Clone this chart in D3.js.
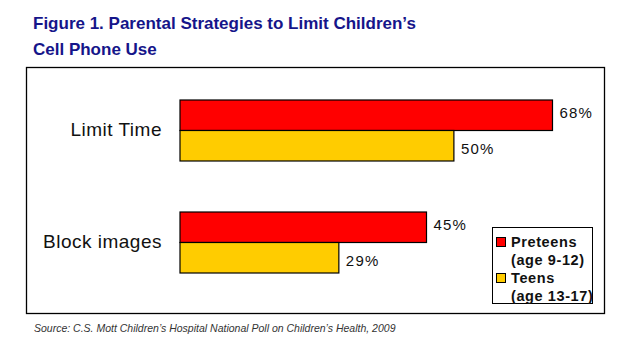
<!DOCTYPE html>
<html lang="en">
<head>
<meta charset="utf-8">
<title>Parental Strategies</title>
<script src="https://cdn.jsdelivr.net/npm/d3@7"></script>
<style>
  body { margin: 0; background: #fff; }
  text { font-family: Arial, "Liberation Sans", sans-serif; }
</style>
</head>
<body>
<script>
// data
var categories = ["Limit Time", "Block images"];
var groups = ["Preteens", "Teens"];
var groupAges = ["(age 9-12)", "(age 13-17)"];
var preteens = [68, 45];
var teens = [50, 29];
var colors = ["#ff0000", "#ffcc00"];

var w = 629, h = 351;
var svg = d3.select("body").append("svg")
  .attr("width", w)
  .attr("height", h);

// title
var title = svg.append("text")
  .attr("fill", "#15158a")
  .attr("font-size", "17px")
  .attr("font-weight", "bold");
title.append("tspan").attr("x", 33).attr("y", 29).text("Figure 1. Parental Strategies to Limit Children\u2019s");
title.append("tspan").attr("x", 33).attr("y", 55).text("Cell Phone Use");

// frame
svg.append("rect")
  .attr("x", 26.5).attr("y", 67.5)
  .attr("width", 578).attr("height", 246)
  .attr("fill", "none")
  .attr("stroke", "#000")
  .attr("stroke-width", 1.3);

// scales
var x = d3.scaleLinear().domain([0, 68]).range([180, 552.5]);
var y0 = d3.scaleBand().domain(categories).range([100, 273]).paddingInner(0.4554).paddingOuter(0);
var y1 = d3.scaleBand().domain(groups).range([0, y0.bandwidth()]);

var rows = categories.map(function(c, i) {
  return { cat: c, vals: [preteens[i], teens[i]] };
});

var g = svg.selectAll("g.cat")
  .data(rows)
  .enter().append("g")
  .attr("class", "cat")
  .attr("transform", function(d) { return "translate(0," + y0(d.cat) + ")"; });

g.selectAll("rect")
  .data(function(d) { return d.vals; })
  .enter().append("rect")
  .attr("x", x(0))
  .attr("y", function(d, i) { return y1(groups[i]); })
  .attr("width", function(d) { return x(d) - x(0); })
  .attr("height", y1.bandwidth())
  .attr("fill", function(d, i) { return colors[i]; })
  .attr("stroke", "#000")
  .attr("stroke-width", 1.2);

// labels sit a bit higher on the red bar, lower on the yellow one
var labelShift = [3, 8];
g.selectAll("text.val")
  .data(function(d) { return d.vals; })
  .enter().append("text")
  .attr("class", "val")
  .attr("x", function(d) { return x(d) + 7; })
  .attr("y", function(d, i) { return y1(groups[i]) + y1.bandwidth() / 2 + labelShift[i]; })
  .attr("font-size", "15px")
  .attr("letter-spacing", "1.2px")
  .attr("fill", "#111")
  .text(function(d) { return d + "%"; });

g.append("text")
  .attr("x", 162)
  .attr("y", y0.bandwidth() / 2 + 6)
  .attr("text-anchor", "end")
  .attr("font-size", "19px")
  .attr("letter-spacing", "0.5px")
  .attr("fill", "#111")
  .text(function(d) { return d.cat; });

// legend
var lg = svg.append("g").attr("transform", "translate(492,227)");
lg.append("rect")
  .attr("x", 0.5).attr("y", 0.5)
  .attr("width", 100).attr("height", 76)
  .attr("fill", "#fff")
  .attr("stroke", "#000");
groups.forEach(function(gr, i) {
  var top = 10 + i * 36;
  lg.append("rect")
    .attr("x", 4.5).attr("y", top + 0.5)
    .attr("width", 9).attr("height", 9)
    .attr("fill", colors[i])
    .attr("stroke", "#000");
  lg.append("text")
    .attr("x", 19).attr("y", top + 10)
    .attr("font-size", "14.5px")
    .attr("font-weight", "bold")
    .attr("letter-spacing", "0.6px")
    .attr("fill", "#111")
    .text(gr);
  lg.append("text")
    .attr("x", 19).attr("y", top + 28)
    .attr("font-size", "14.5px")
    .attr("font-weight", "bold")
    .attr("letter-spacing", "0.6px")
    .attr("fill", "#111")
    .text(groupAges[i]);
});

// source
svg.append("text")
  .attr("x", 34)
  .attr("y", 332)
  .attr("font-size", "10.5px")
  .attr("font-style", "italic")
  .attr("fill", "#333")
  .text("Source: C.S. Mott Children\u2019s Hospital National Poll on Children\u2019s Health, 2009");
</script>
</body>
</html>
